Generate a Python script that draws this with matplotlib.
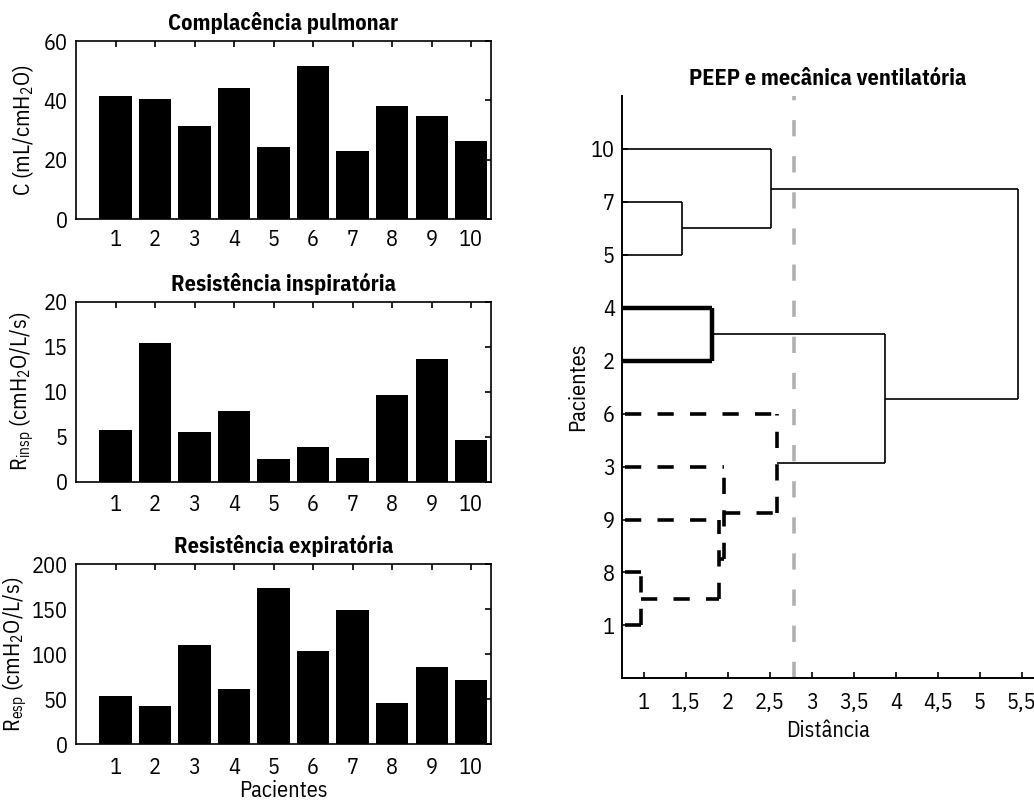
import matplotlib
matplotlib.use("Agg")
import matplotlib.pyplot as plt

fonte = "IBM Plex Sans Condensed"
plt.rcParams['font.family'] = [fonte, 'DejaVu Sans']
plt.rcParams['mathtext.fontset'] = 'custom'
plt.rcParams['mathtext.rm'] = fonte
plt.rcParams['mathtext.it'] = fonte

# dados dos pacientes
pacientes = [1, 2, 3, 4, 5, 6, 7, 8, 9, 10]
complacencia = [41.5, 40.4, 31.4, 44.3, 24.3, 51.6, 23.0, 38.0, 34.6, 26.2]
res_insp = [5.7, 15.4, 5.5, 7.8, 2.5, 3.8, 2.6, 9.6, 13.6, 4.6]
res_esp = [54, 42.6, 110.7, 61.1, 174, 103.7, 149.2, 45.5, 86.3, 71.8]

# dendrograma: ordem das folhas (de baixo para cima) e fusoes
ordem_folhas = [1, 8, 9, 3, 6, 2, 4, 5, 7, 10]
# (filho a, filho b, distancia, estilo)
fusoes = [
    ("1", "8", 0.964, "tracejado"),
    ("m0", "9", 1.894, "tracejado"),
    ("m1", "3", 1.954, "tracejado"),
    ("m2", "6", 2.589, "tracejado"),
    ("2", "4", 1.807, "grosso"),
    ("5", "7", 1.457, "fino"),
    ("m5", "10", 2.514, "fino"),
    ("m3", "m4", 3.877, "fino"),
    ("m7", "m6", 5.461, "fino"),
]
limiar = 2.79
dist_ticks = [1, 1.5, 2, 2.5, 3, 3.5, 4, 4.5, 5, 5.5]

fig = plt.figure(figsize=(10.34, 8.02), dpi=100)

fs = 16
paineis = [
    (complacencia, "Complacência pulmonar", r"C (mL/cmH$_2$O)", 60, [0, 20, 40, 60], [0.7269, 0.2219], -0.097),
    (res_insp, "Resistência inspiratória", r"R$_{\mathrm{insp}}$ (cmH$_2$O/L/s)", 20, [0, 5, 10, 15, 20], [0.3994, 0.2244], -0.097),
    (res_esp, "Resistência expiratória", r"R$_{\mathrm{esp}}$ (cmH$_2$O/L/s)", 200, [0, 50, 100, 150, 200], [0.0719, 0.2244], -0.114),
]

for i, (vals, titulo, ylab, ymax, yt, (b, h), xlab) in enumerate(paineis):
    ax = fig.add_axes([0.0735, b, 0.4014, h])
    ax.bar(pacientes, vals, width=0.82, color="black")
    ax.set_xlim(0, 10.5)
    ax.set_ylim(0, ymax)
    ax.set_xticks(pacientes)
    ax.set_yticks(yt)
    ax.tick_params(axis="x", bottom=False, top=True, direction="in", length=4,
                   width=1.2, labelsize=fs, pad=9 if i else 7)
    ax.tick_params(axis="y", left=False, right=True, direction="in", length=4,
                   width=1.2, labelsize=fs, pad=6)
    for s in ax.spines.values():
        s.set_linewidth(1.2)
    ax.set_title(titulo, fontsize=fs, fontweight="bold", pad=8)
    ax.set_ylabel(ylab, fontsize=fs)
    ax.yaxis.set_label_coords(xlab, 0.5)
    if i == 2:
        ax.set_xlabel("Pacientes", fontsize=fs, labelpad=1)

# dendrograma
ax = fig.add_axes([0.6013, 0.1542, 0.3987, 0.7261])
estilos = {
    "tracejado": dict(color="black", lw=2.6, ls=(0, (4.5, 4.5))),
    "grosso": dict(color="black", lw=3.2, ls="-"),
    "fino": dict(color="black", lw=1.2, ls="-"),
}
pos = {str(p): (0.0, float(k + 1)) for k, p in enumerate(ordem_folhas)}
for j, (a, c, d, est) in enumerate(fusoes):
    xa, ya = pos[a]
    xc, yc = pos[c]
    st = estilos[est]
    ax.plot([xa, d], [ya, ya], solid_capstyle="butt", **st)
    ax.plot([xc, d], [yc, yc], solid_capstyle="butt", **st)
    ax.plot([d, d], [ya, yc], solid_capstyle="butt", **st)
    pos["m%d" % j] = (d, (ya + yc) / 2)

ax.plot([limiar, limiar], [0, 11], color="#b0b0b0", lw=2.6, ls=(0, (4.5, 5.5)))

ax.set_xlim(0.734, 5.648)
ax.set_ylim(0, 11)
ax.set_yticks(range(1, 11))
ax.set_yticklabels([str(p) for p in ordem_folhas])
ax.set_xticks(dist_ticks)
ax.set_xticklabels([("%g" % v).replace(".", ",") for v in dist_ticks])
ax.spines["top"].set_visible(False)
ax.spines["right"].set_visible(False)
for s in ax.spines.values():
    s.set_linewidth(1.4)
ax.tick_params(axis="both", direction="in", length=4, width=1.2, labelsize=fs)
ax.tick_params(axis="x", pad=10)
ax.tick_params(axis="y", pad=5)
ax.set_xlabel("Distância", fontsize=fs, labelpad=4)
ax.set_ylabel("Pacientes", fontsize=fs, labelpad=1)
ax.set_title("PEEP e mecânica ventilatória", fontsize=fs, fontweight="bold", pad=8)

fig.savefig("out.png", dpi=100)
